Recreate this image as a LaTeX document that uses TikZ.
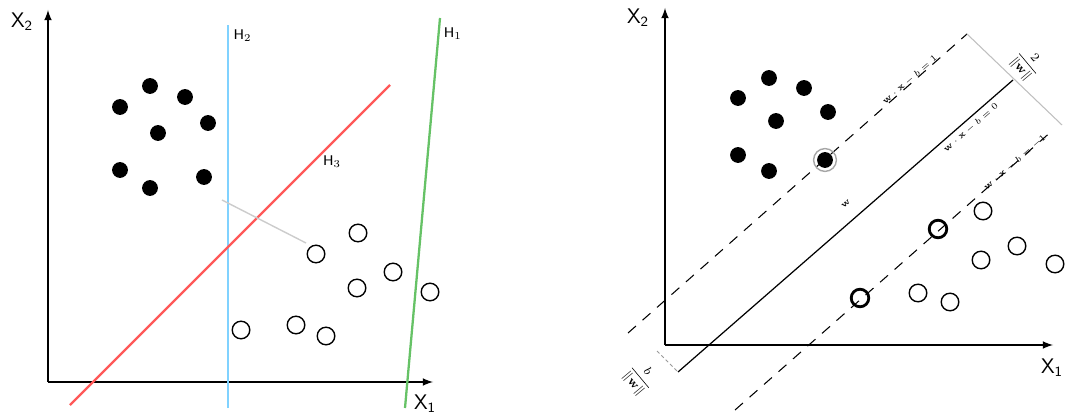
\documentclass[tikz,border=0pt]{standalone}
\usepackage{amsmath}
\usepackage{amssymb}
\usepackage{tikz}
\usetikzlibrary{positioning, arrows.meta}

\begin{document}
\begin{tikzpicture}[x=0.02cm, y=-0.02cm, >=latex]
    % Stili
    \tikzstyle{dotpos} = [circle, fill=black, inner sep=0pt, minimum size=9pt]
    \tikzstyle{dotneg} = [circle, draw=black, line width=0.8pt, inner sep=0pt, minimum size=10pt]
    \tikzstyle{axis} = [line width=1pt, ->]
    \tikzstyle{hyp} = [line width=1.3pt]
    \tikzstyle{lab} = [font=\tiny, inner sep=1pt]
    \tikzstyle{hlab} = [font=\footnotesize\sffamily, inner sep=1pt]
    \tikzstyle{marg} = [dashed, dash pattern=on 6pt off 5pt, line width=0.6pt]

    \useasboundingbox (0,0) rectangle (1065,415);

    % Assi (sinistra)
    \node [coordinate] (o1) at (48,382) {};
    \node [coordinate] (ya) at (48,10) {};
    \node [coordinate] (xa) at (433,382) {};
    \draw [axis] (o1) -- (ya);
    \draw [axis] (o1) -- (xa);
    \node (lya) at (22,22) {\large $\mathsf{X_2}$};
    \node (lxa) at (425,404) {\large $\mathsf{X_1}$};

    % Punti (sinistra)
    \foreach \p [count=\i] in {(120,107),(150,86),(185,97),(208,123),(158,133),(120,170),(150,188),(204,177)}
        \node [dotpos] (a\i) at \p {};
    \foreach \p [count=\i] in {(316,254),(358,233),(393,272),(357,288),(430,292),(241,330),(296,325),(326,336)}
        \node [dotneg] (b\i) at \p {};

    % Iperpiani (sinistra)
    \node [coordinate] (h1a) at (405,408) {};
    \node [coordinate] (h1b) at (440,18) {};
    \node [coordinate] (h2a) at (228,408) {};
    \node [coordinate] (h2b) at (228,25) {};
    \node [coordinate] (h3a) at (70,405) {};
    \node [coordinate] (h3b) at (390,85) {};
    \draw [hyp, green!60!black!60] (h1a) -- (h1b);
    \draw [hyp, blue!35!cyan!50] (h2a) -- (h2b);
    \draw [hyp, red!65] (h3a) -- (h3b);
    \node [hlab, right=1pt of h1b, yshift=-9pt] (lh1) {H$_1$};
    \node [hlab, right=2pt of h2b, yshift=-6pt] (lh2) {H$_2$};
    \node [hlab] (lh3) at (332,162) {H$_3$};

    % Distanza
    \node [coordinate] (d1) at (222,200) {};
    \node [coordinate] (d2) at (306,243) {};
    \draw [black!20, line width=0.8pt] (d1) -- (d2);

    % Assi (destra)
    \node [coordinate] (o2) at (665,345) {};
    \node [coordinate] (yb) at (665,8) {};
    \node [coordinate] (xb) at (1053,345) {};
    \draw [axis] (o2) -- (yb);
    \draw [axis] (o2) -- (xb);
    \node (lyb) at (638,18) {\large $\mathsf{X_2}$};
    \node (lxb) at (1052,368) {\large $\mathsf{X_1}$};

    % Iperpiano e margini
    \node [coordinate] (s1) at (678,372) {};
    \node [coordinate] (s2) at (1013,80) {};
    \node [coordinate] (u1) at (628,333) {};
    \node [coordinate] (u2) at (967,34) {};
    \node [coordinate] (l1) at (735,410) {};
    \node [coordinate] (l2) at (1053,130) {};
    \draw [line width=0.7pt] (s1) -- (s2);
    \draw [marg] (u1) -- (u2);
    \draw [marg] (l1) -- (l2);

    % Punti (destra)
    \foreach \p [count=\i] in {(738,98),(769,78),(804,88),(828,112),(776,121),(738,155),(769,171),(825,160)}
        \node [dotpos] (c\i) at \p {};
    \foreach \p [count=\i] in {(983,211),(938,229),(1017,246),(981,260),(1055,264),(860,298),(918,293),(950,302)}
        \node [dotneg] (e\i) at \p {};
    \draw [black!35, line width=0.8pt] (c8) circle (6.5pt);
    \node [dotneg, line width=1.6pt] at (e2) {};
    \node [dotneg, line width=1.6pt] at (e6) {};

    % Etichette
    \node [lab, rotate=41] (eq1) at (910,80) {$\mathbf{w}\cdot\mathbf{x}-b=1$};
    \node [lab, rotate=41] (eq0) at (971,128) {$\mathbf{w}\cdot\mathbf{x}-b=0$};
    \node [lab, rotate=41] (eq2) at (1015,163) {$\mathbf{w}\cdot\mathbf{x}-b=-1$};
    \node [lab, rotate=41] (lw) at (846,204) {$\mathbf{w}$};

    % Quote
    \node [coordinate] (m1) at (1062,125) {};
    \draw [black!25, line width=0.6pt] (u2) -- (m1);
    \node [lab, font=\scriptsize, rotate=-50] (mw) at (1027,64) {$\dfrac{2}{\|\mathbf{w}\|}$};
    \node [coordinate] (q1) at (657,351) {};
    \draw [black!40, line width=0.5pt, dashed, dash pattern=on 2pt off 1.5pt] (q1) -- (s1);
    \node [lab, font=\scriptsize, rotate=-50] (bw) at (640,378) {$\dfrac{b}{\|\mathbf{w}\|}$};
\end{tikzpicture}
\end{document}
